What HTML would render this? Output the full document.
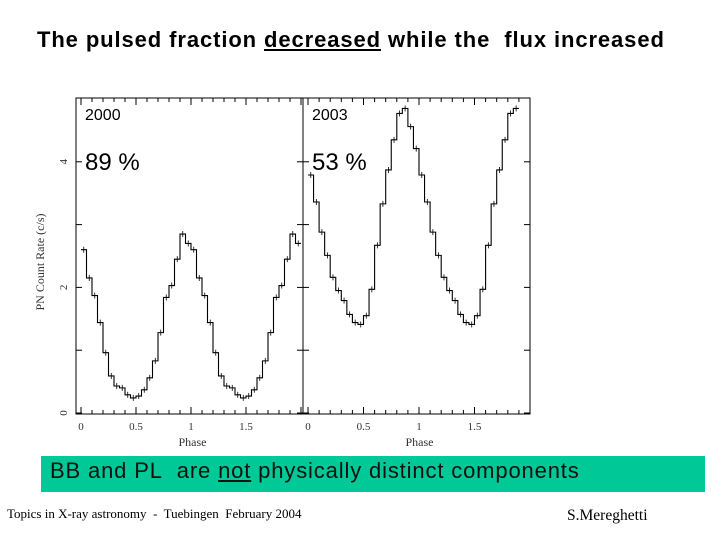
<!DOCTYPE html>
<html><head><meta charset="utf-8"><style>
body{margin:0;width:720px;height:540px;background:#fff;overflow:hidden;position:relative;font-family:"Liberation Sans",sans-serif}
.t{position:absolute;white-space:nowrap}
</style></head><body>
<div class="t" style="left:37px;top:27px;font-size:22px;font-weight:bold;letter-spacing:0.9px">The pulsed fraction <u>decreased</u> while the&nbsp; flux increased</div>
<svg id="chart" width="720" height="540" style="position:absolute;left:0;top:0" xmlns="http://www.w3.org/2000/svg"></svg>
<div style="position:absolute;left:41px;top:456px;width:664px;height:36px;background:#00c896"></div>
<div class="t" style="left:50px;top:458px;font-size:22px;letter-spacing:0.85px;color:#111">BB and PL&nbsp; are <u>not</u> physically distinct components</div>
<div class="t" style="left:7px;top:506px;font-size:13px;font-family:'Liberation Serif',serif">Topics in X-ray astronomy&nbsp; -&nbsp; Tuebingen&nbsp; February 2004</div>
<div class="t" style="left:567px;top:507px;font-size:15.5px;font-family:'Liberation Serif',serif">S.Mereghetti</div>
<script>
const bins2000=[2.6,2.15,1.87,1.44,0.96,0.59,0.43,0.40,0.29,0.24,0.27,0.37,0.56,0.83,1.28,1.84,2.03,2.45,2.85,2.7];
const bins2003=[3.79,3.36,2.88,2.51,2.16,1.95,1.79,1.57,1.44,1.41,1.55,1.97,2.67,3.33,3.87,4.35,4.77,4.85,4.56,4.21];
const yTicks=[0,1,2,3,4];
const yLabels=["0","","2","","4"];
const xTicks=[0,0.5,1,1.5];
const xLabels=["0","0.5","1","1.5"];
const labels2000=["2000","89 %"];
const labels2003=["2003","53 %"];
const svg=document.getElementById('chart');
const NS='http://www.w3.org/2000/svg';
function mk(t,a,p){const e=document.createElementNS(NS,t);for(const k in a)e.setAttribute(k,a[k]);(p||svg).appendChild(e);return e;}
const y=v=>413-v*62.8;
function panel(x0,x1,px0,scale,data,nb,lab,name){
  const g=mk('g',{});
  
  
  const fr=mk('rect',{x:x0,y:98,width:x1-x0,height:316,fill:'none',stroke:'#000','stroke-width':1},g);
  
  
  const X=p=>px0+p*scale;
  yTicks.forEach((t,i)=>{
    mk('line',{x1:x0,x2:x0+6,y1:y(t),y2:y(t),stroke:'#000'},g);
    mk('line',{x1:x1-6,x2:x1,y1:y(t),y2:y(t),stroke:'#000'},g);
  });
  for(let p=0;p<=2.0001;p+=0.1){const xx=X(p);if(xx>x1)break;const L=(Math.abs(p*2-Math.round(p*2))<1e-6)?7:4;
    mk('line',{x1:xx,x2:xx,y1:414,y2:414-L,stroke:'#000'},g);mk('line',{x1:xx,x2:xx,y1:98,y2:98+L,stroke:'#000'},g);}
  xTicks.forEach((t,i)=>{const tx=mk('text',{x:X(t),y:430,'text-anchor':'middle','font-size':11,'font-family':'Liberation Serif,serif',fill:'#333'},g);tx.textContent=xLabels[i];
    });
  const xt=mk('text',{x:(x0+x1)/2+3,y:446,'text-anchor':'middle','font-size':12,'font-family':'Liberation Serif,serif',fill:'#333'},g);xt.textContent='Phase';
  
  let d='';
  for(let i=0;i<nb;i++){const v=data[i%data.length];const a=X(i*0.05),b=X((i+1)*0.05);
    d+=(i===0?'M':'L')+a+','+y(v)+'L'+b+','+y(v);}
  const pth=mk('path',{d:d,fill:'none',stroke:'#000','stroke-width':1.1},g);
  
  
  for(let i=0;i<nb;i++){const v=data[i%data.length];const c=X((i+0.5)*0.05);mk('line',{x1:c,x2:c,y1:y(v)-3,y2:y(v)+3,stroke:'#000','stroke-width':0.8},g);}
  const t1=mk('text',{x:x0+9,y:120,'font-size':16,fill:'#000'},g);t1.textContent=lab[0];
  
  const t2=mk('text',{x:x0+9,y:170,'font-size':24,fill:'#000'},g);t2.textContent=lab[1];
  
}
panel(76,303,81,110,bins2000,40,labels2000,'panel-2000');
panel(303,530,308,111,bins2003,38,labels2003,'panel-2003');
yTicks.forEach((t,i)=>{if(!yLabels[i])return;const tx=mk('text',{x:0,y:0,'text-anchor':'middle','font-size':11,'font-family':'Liberation Serif,serif',fill:'#333',transform:'translate(67,'+y(t)+') rotate(-90)'});tx.textContent=yLabels[i];
  });
const yt=mk('text',{x:0,y:0,'text-anchor':'middle','font-size':12,'font-family':'Liberation Serif,serif',fill:'#333',transform:'translate(44,262) rotate(-90)'});yt.textContent='PN Count Rate (c/s)';

</script>
</body></html>
